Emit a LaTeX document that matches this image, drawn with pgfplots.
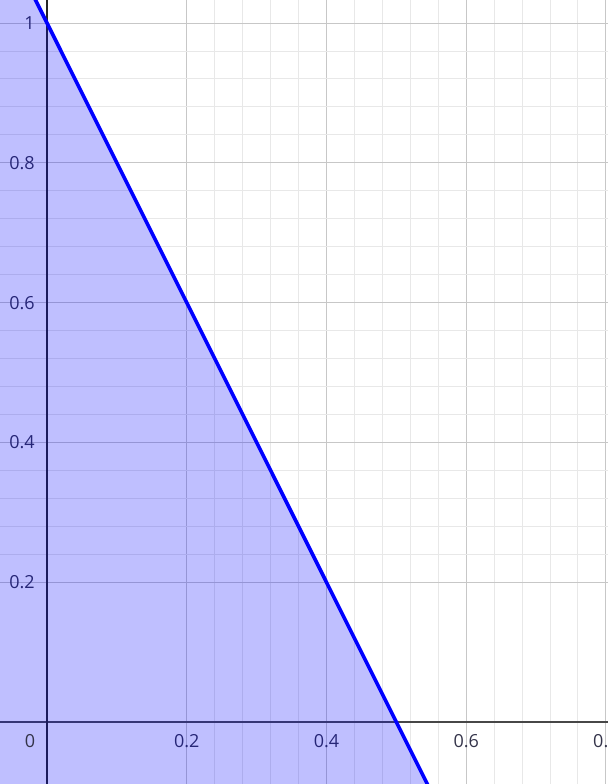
\documentclass[border=0pt]{standalone}
\usepackage{pgfplots}
\pgfplotsset{compat=1.18}
\usepackage{fontspec}
\setmainfont{Open Sans}
\definecolor{lab}{HTML}{34344A}
\begin{document}
\begin{tikzpicture}
\begin{axis}[
  scale only axis,
  width=456pt, height=588pt,
  xmin=-0.0673, xmax=0.803,
  ymin=-0.0887, ymax=1.033,
  axis lines=middle,
  x axis line style={-, draw=black!72, line width=1.4pt},
  y axis line style={-, draw=black!85, line width=0.9pt},
  xtick={0.2,0.4,0.6,0.8},
  ytick={0.2,0.4,0.6,0.8,1},
  yticklabels={0.2,0.4,0.6,0.8,1},
  xticklabels={0.2,0.4,0.6,0.8},
  minor tick num=4,
  major tick length=0pt, minor tick length=0pt,
  grid=both,
  major grid style={draw=black!22, line width=0.75pt},
  minor grid style={draw=black!9, line width=0.75pt},
  /pgf/number format/assume math mode=true,
  tick label style={font=\fontsize{13.5}{15}\selectfont, text=lab},
  xticklabel style={anchor=center, inner sep=0pt, yshift=-14.25pt},
  yticklabel style={anchor=east, inner sep=0pt, xshift=-9pt},
  clip=true,
]
\addplot[fill=blue, fill opacity=0.25, draw=none] coordinates {(-0.2,1.4) (0.7,-0.4) (-0.2,-0.4)} -- cycle;
\addplot[blue, line width=2.7pt] coordinates {(-0.2,1.4) (0.7,-0.4)};
\node[font=\fontsize{13.5}{15}\selectfont, text=lab, inner sep=0pt, xshift=-12.75pt, yshift=-14.25pt] at (axis cs:0,0) {0};
\end{axis}
\pgfresetboundingbox
\useasboundingbox (current axis.south west) rectangle (current axis.north east);
\end{tikzpicture}
\end{document}
